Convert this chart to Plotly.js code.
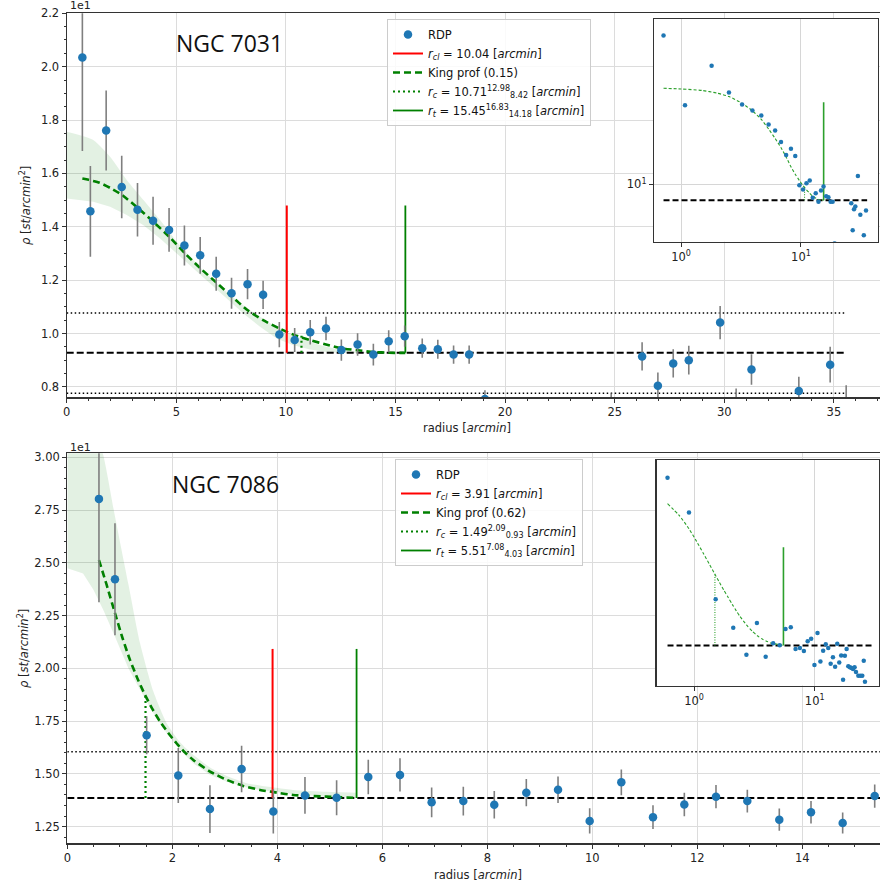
<!DOCTYPE html>
<html>
<head>
<meta charset="utf-8">
<script src="https://cdn.plot.ly/plotly-3.0.1.min.js"></script>
<style>
html,body{margin:0;padding:0;overflow:hidden;background:#fff;}
#chart{width:900px;height:891px;}
</style>
</head>
<body>
<div id="chart"></div>
<script>
// ---------------- NGC 7031 (values in st/arcmin^2; main axis shown with 1e1 offset) ----------------
const r7031   = [0.715,1.08,1.80,2.51,3.23,3.94,4.67,5.37,6.09,6.82,7.52,8.25,8.96,9.70,10.40,11.11,11.83,12.53,13.27,13.99,14.69,15.42,16.22,16.93,17.65,18.36,19.08,24.84,26.25,26.97,27.67,28.38,29.81,30.54,31.24,33.40,34.83,35.56];
const rho7031 = [20.34,14.58,17.61,15.49,14.64,14.23,13.88,13.30,12.93,12.24,11.51,11.85,11.45,9.96,9.76,10.05,10.19,9.38,9.59,9.21,9.71,9.90,9.45,9.41,9.21,9.21,7.55,7.40,9.14,8.04,8.88,9.00,10.41,7.35,8.65,7.85,8.83,7.40];
const err7031 = [3.5,1.7,1.5,1.17,1.0,0.9,0.82,0.75,0.69,0.64,0.58,0.57,0.53,0.47,0.45,0.46,0.44,0.40,0.42,0.41,0.41,0.40,0.36,0.36,0.34,0.34,0.32,0.35,0.53,0.50,0.53,0.54,0.62,0.59,0.57,0.53,0.67,0.66];
const kingR7031   = [0.715,1.0,1.5,2.0,2.51,3.23,3.95,4.67,5.40,6.09,6.84,7.52,8.21,8.96,9.70,10.40,11.11,11.83,12.6,13.27,14.0,14.7,15.45];
const kingRho7031 = [15.81,15.76,15.65,15.45,15.2,14.72,14.19,13.63,13.0,12.45,11.9,11.4,10.9,10.5,10.19,9.94,9.75,9.59,9.44,9.375,9.31,9.28,9.275];
const bandR7031  = [0,1.21,1.98,2.74,3.5,4.26,5.02,5.78,6.54,7.30,8.06,8.82,9.58,10.34,11.1,11.86,12.6,13.38,13.8];
const bandUp7031 = [17.56,17.25,16.62,15.75,15.0,14.25,13.44,12.75,12.12,11.56,11.06,10.63,10.25,9.94,9.69,9.5,9.37,9.31,9.28];
const bandLo7031 = [15.06,14.94,14.75,14.44,14.06,13.56,13.0,12.44,11.88,11.31,10.75,10.25,9.81,9.56,9.40,9.31,9.27,9.27,9.27];
const bg7031 = 9.275, bgHi7031 = 10.77, bgLo7031 = 7.76;
const bgSpan7031 = [0, 35.5], bgSpanLog7031 = [0.715, 35.6];
const rcl7031 = 10.04, rc7031 = 10.71, rcTop7031 = 9.92, rt7031 = 15.45, vTop7031 = 14.8;
const yTicks7031 = [8,10,12,14,16,18,20,22];
const yText7031  = ['0.8','1.0','1.2','1.4','1.6','1.8','2.0','2.2'];

// ---------------- NGC 7086 ----------------
const r7086   = [0.603,0.908,1.511,2.114,2.717,3.32,3.924,4.527,5.13,5.733,6.337,6.94,7.543,8.133,8.743,9.347,9.95,10.553,11.156,11.753,12.356,12.953,13.562,14.166,14.769,15.379,15.98,16.58,17.19,17.79,18.39,18.99,19.6,20.2,20.8,21.4,22.0,23.0,23.9,24.8,25.5,26.1];
const rho7086 = [28.03,24.22,16.83,14.92,13.33,15.23,13.22,13.98,13.87,14.85,14.95,13.65,13.71,13.54,14.11,14.25,12.77,14.60,12.95,13.55,13.92,13.71,12.83,13.18,12.67,13.95,12.9,13.29,12.0,13.27,13.65,12.7,12.64,12.6,12.55,12.64,12.4,12.2,12.2,12.2,13.0,11.9];
const err7086 = [4.9,2.65,0.9,1.3,1.13,1.1,1.05,0.87,0.83,0.82,0.79,0.7,0.68,0.65,0.65,0.63,0.6,0.61,0.56,0.56,0.55,0.54,0.53,0.53,0.5,0.55,0.5,0.5,0.5,0.5,0.5,0.5,0.5,0.5,0.5,0.5,0.5,0.5,0.5,0.5,0.5,0.5];
const kingR7086   = [0.603,0.75,0.909,1.05,1.194,1.34,1.48,1.62,1.766,1.92,2.08,2.24,2.40,2.72,3.04,3.35,3.67,3.99,4.30,4.94,5.51];
const kingRho7086 = [25.13,23.95,22.61,21.45,20.4,19.5,18.74,18.08,17.48,16.95,16.45,16.02,15.66,15.11,14.71,14.43,14.24,14.11,14.0,13.92,13.86];
const bandR7086  = [0,0.3,0.5,0.686,0.909,1.163,1.385,1.64,1.893,2.147,2.4,2.72,3.04,3.42,3.67,4.30,4.94,5.51];
const bandUp7086 = [36.0,33.5,31.5,30.1,27.2,24.0,21.2,18.9,17.4,16.5,15.9,15.3,14.9,14.56,14.45,14.24,14.15,14.11];
const bandLo7086 = [24.74,24.5,23.71,22.77,21.5,20.0,18.98,17.87,16.93,16.13,15.5,14.95,14.63,14.35,14.24,14.05,13.92,13.87];
const bg7086 = 13.86, bgHi7086 = 16.05, bgLo7086 = 11.67;
const bgSpan7086 = [0, 29.7], bgSpanLog7086 = [0.603, 29.7];
const rcl7086 = 3.91, rc7086 = 1.49, rcTop7086 = 18.74, rt7086 = 5.51, vTop7086 = 20.92;
const yTicks7086 = [12.5,15,17.5,20,22.5,25,27.5,30];
const yText7086  = ['1.25','1.50','1.75','2.00','2.25','2.50','2.75','3.00'];

// ---------------- helpers (styling only) ----------------
const W = 900, H = 891;
const PX = p => p / W, PY = p => 1 - p / H;
const FONT = 'DejaVu Sans, sans-serif';
const BLUE = '#1f77b4', GREEN = '#008000', LGREEN = '#2ca02c';
const ERRC = '#7f7f7f';

function hline(xs, y, dash, width, xa, ya) {
  return {x: xs, y: [y, y], xaxis: xa, yaxis: ya, mode: 'lines', showlegend: false, hoverinfo: 'skip',
          line: {color: 'black', dash: dash, width: width}};
}
function vline(x, y0, y1, color, dash, width, xa, ya, name, legend, rank) {
  return {x: [x, x], y: [y0, y1], xaxis: xa, yaxis: ya, mode: 'lines', name: name || '',
          showlegend: !!name, legend: legend, legendrank: rank,
          line: {color: color, dash: dash, width: width}, hoverinfo: 'skip'};
}

function panelTraces(d) {
  const t = [];
  const xa = d.xa, ya = d.ya, xi = d.xi, yi = d.yi, lg = d.legend;
  // band
  t.push({x: d.bandR, y: d.bandLo, xaxis: xa, yaxis: ya, mode: 'lines', line: {width: 0, color: 'rgba(0,0,0,0)'}, showlegend: false, legend: lg, hoverinfo: 'skip'});
  t.push({x: d.bandR, y: d.bandUp, xaxis: xa, yaxis: ya, mode: 'lines', fill: 'tonexty', fillcolor: 'rgba(0,128,0,0.11)', line: {width: 0, color: 'rgba(0,0,0,0)', shape: 'spline', smoothing: 0.6}, showlegend: false, legend: lg, hoverinfo: 'skip'});
  // horizontal background lines
  t.push(hline(d.bgSpan, d.bgHi, '1.5px,2.5px', 1.6, xa, ya));
  t.push(hline(d.bgSpan, d.bgLo, '1.5px,2.5px', 1.6, xa, ya));
  t.push(hline(d.bgSpan, d.bg, '7px,3px', 2, xa, ya));
  // King profile
  t.push({x: d.kingR, y: d.kingRho, xaxis: xa, yaxis: ya, mode: 'lines', name: d.kingName, legend: lg, legendrank: 3,
          line: {color: GREEN, dash: '7px,4px', width: 2.6, shape: 'spline', smoothing: 0.6}, hoverinfo: 'skip'});
  // vertical markers
  t.push(vline(d.rcl, d.bg, d.vTop, 'red', 'solid', 2, xa, ya, d.rclName, lg, 2));
  t.push(vline(d.rc, d.bg, d.rcTop, GREEN, '2px,3px', 2.2, xa, ya, d.rcName, lg, 4));
  t.push(vline(d.rt, d.bg, d.vTop, GREEN, 'solid', 1.8, xa, ya, d.rtName, lg, 5));
  // data
  t.push({x: d.r, y: d.rho, xaxis: xa, yaxis: ya, mode: 'markers', name: 'RDP', legend: lg, legendrank: 1,
          marker: {color: BLUE, size: 8.5},
          error_y: {type: 'data', array: d.err, visible: true, color: ERRC, thickness: 1.6, width: 0}});
  // inset
  t.push(hline(d.bgSpanLog, d.bg, '6px,3px', 2, xi, yi));
  t.push({x: d.kingR, y: d.kingRho, xaxis: xi, yaxis: yi, mode: 'lines', showlegend: false, hoverinfo: 'skip',
          line: {color: LGREEN, dash: '3px,2px', width: 1.1, shape: 'spline', smoothing: 0.6}});
  t.push(vline(d.rc, d.bg, d.rcTop, LGREEN, '1px,1.5px', 1.1, xi, yi));
  t.push(vline(d.rt, d.bg, d.vTop, LGREEN, 'solid', 1.6, xi, yi));
  t.push({x: d.r, y: d.rho, xaxis: xi, yaxis: yi, mode: 'markers', showlegend: false, hoverinfo: 'skip',
          marker: {color: BLUE, size: 4.5}});
  return t;
}

const data = [].concat(
  panelTraces({xa: 'x', ya: 'y', xi: 'x2', yi: 'y2', legend: 'legend',
    r: r7031, rho: rho7031, err: err7031, kingR: kingR7031, kingRho: kingRho7031,
    bandR: bandR7031, bandUp: bandUp7031, bandLo: bandLo7031,
    bg: bg7031, bgHi: bgHi7031, bgLo: bgLo7031, bgSpan: bgSpan7031, bgSpanLog: bgSpanLog7031,
    rcl: rcl7031, rc: rc7031, rcTop: rcTop7031, rt: rt7031, vTop: vTop7031,
    kingName: 'King prof (0.15)',
    rclName: '<i>r<sub>cl</sub></i> = 10.04 [<i>arcmin</i>]',
    rcName: '<i>r<sub>c</sub></i> = 10.71<sup>12.98</sup><sub>8.42</sub> [<i>arcmin</i>]',
    rtName: '<i>r<sub>t</sub></i> = 15.45<sup>16.83</sup><sub>14.18</sub> [<i>arcmin</i>]'}),
  panelTraces({xa: 'x3', ya: 'y3', xi: 'x4', yi: 'y4', legend: 'legend2',
    r: r7086, rho: rho7086, err: err7086, kingR: kingR7086, kingRho: kingRho7086,
    bandR: bandR7086, bandUp: bandUp7086, bandLo: bandLo7086,
    bg: bg7086, bgHi: bgHi7086, bgLo: bgLo7086, bgSpan: bgSpan7086, bgSpanLog: bgSpanLog7086,
    rcl: rcl7086, rc: rc7086, rcTop: rcTop7086, rt: rt7086, vTop: vTop7086,
    kingName: 'King prof (0.62)',
    rclName: '<i>r<sub>cl</sub></i> = 3.91 [<i>arcmin</i>]',
    rcName: '<i>r<sub>c</sub></i> = 1.49<sup>2.09</sup><sub>0.93</sub> [<i>arcmin</i>]',
    rtName: '<i>r<sub>t</sub></i> = 5.51<sup>7.08</sup><sub>4.03</sub> [<i>arcmin</i>]'})
);

const AX = {
  showline: true, linecolor: '#333', linewidth: 1.2, mirror: true,
  ticks: 'outside', ticklen: 4, tickwidth: 1, tickcolor: '#333',
  showgrid: true, gridcolor: '#dcdcdc', gridwidth: 1, zeroline: false,
  tickfont: {family: FONT, size: 11.5, color: '#222'}
};
const MINOR = d => ({dtick: d, tick0: 0, ticks: 'outside', ticklen: 2, tickcolor: '#333', showgrid: false});
const INSET = {
  type: 'log', showline: true, linecolor: '#333', linewidth: 1.2, mirror: true,
  ticks: 'outside', ticklen: 4, tickcolor: '#333', showgrid: true, gridcolor: '#d6d6d6',
  zeroline: false, tickmode: 'array', tickfont: {family: FONT, size: 11.5, color: '#222'}
};
const LEG = {
  xanchor: 'left', yanchor: 'top', bgcolor: 'rgba(255,255,255,0.85)', traceorder: 'normal',
  bordercolor: '#cccccc', borderwidth: 1, font: {family: FONT, size: 11.5, color: '#111'},
  tracegroupgap: 0, itemwidth: 30
};

const layout = {
  width: W, height: H, margin: {l: 0, r: 0, t: 0, b: 0},
  paper_bgcolor: 'white', plot_bgcolor: 'white', showlegend: true,
  xaxis:  Object.assign({}, AX, {domain: [PX(66.7), PX(888.7)], range: [0, 37.5], anchor: 'y', tick0: 0, dtick: 5, minor: MINOR(1)}),
  yaxis:  Object.assign({}, AX, {domain: [PY(397.3), PY(13.3)], range: [7.61, 22.0], anchor: 'x', tickmode: 'array', tickvals: yTicks7031, ticktext: yText7031, minor: MINOR(0.5)}),
  xaxis2: Object.assign({}, INSET, {domain: [PX(654), PX(878)], range: [-0.225, 1.642], anchor: 'y2', tickvals: [1, 10], ticktext: ['10<sup>0</sup>', '10<sup>1</sup>']}),
  yaxis2: Object.assign({}, INSET, {domain: [PY(241.7), PY(19)], range: [0.8814, 1.3424], anchor: 'x2', tickvals: [10], ticktext: ['10<sup>1</sup>']}),
  xaxis3: Object.assign({}, AX, {domain: [PX(67.3), PX(886.3)], range: [0, 15.6], anchor: 'y3', tick0: 0, dtick: 2, minor: MINOR(0.5)}),
  yaxis3: Object.assign({}, AX, {domain: [PY(843.3), PY(453.3)], range: [11.71, 30.19], anchor: 'x3', tickmode: 'array', tickvals: yTicks7086, ticktext: yText7086, minor: MINOR(0.5)}),
  xaxis4: Object.assign({}, INSET, {domain: [PX(656.5), PX(879)], range: [-0.311, 1.533], anchor: 'y4', tickvals: [1, 10], ticktext: ['10<sup>0</sup>', '10<sup>1</sup>']}),
  yaxis4: Object.assign({}, INSET, {domain: [PY(685.5), PY(460)], range: [1.0686, 1.4799], anchor: 'x4', tickmode: 'auto', showticklabels: false, ticks: '', showgrid: false}),
  legend:  Object.assign({}, LEG, {x: PX(387), y: PY(19)}),
  legend2: Object.assign({}, LEG, {x: PX(395), y: PY(459)}),
  annotations: [
    {text: 'NGC 7031', xref: 'paper', yref: 'paper', x: PX(230), y: PY(43), showarrow: false, xanchor: 'center', yanchor: 'middle', font: {family: 'Open Sans, sans-serif', size: 23, color: '#111'}},
    {text: 'NGC 7086', xref: 'paper', yref: 'paper', x: PX(225), y: PY(484), showarrow: false, xanchor: 'center', yanchor: 'middle', font: {family: 'Open Sans, sans-serif', size: 23, color: '#111'}},
    {text: '1e1', xref: 'paper', yref: 'paper', x: PX(68), y: PY(6), showarrow: false, xanchor: 'left', yanchor: 'middle', font: {family: FONT, size: 11, color: '#222'}},
    {text: '1e1', xref: 'paper', yref: 'paper', x: PX(68), y: PY(447), showarrow: false, xanchor: 'left', yanchor: 'middle', font: {family: FONT, size: 11, color: '#222'}},
    {text: '<i>ρ</i> [<i>st</i>/<i>arcmin</i><sup>2</sup>]', xref: 'paper', yref: 'paper', x: PX(25), y: PY(206), textangle: -90, showarrow: false, xanchor: 'center', yanchor: 'middle', font: {family: FONT, size: 11.5, color: '#222'}},
    {text: '<i>ρ</i> [<i>st</i>/<i>arcmin</i><sup>2</sup>]', xref: 'paper', yref: 'paper', x: PX(23), y: PY(649), textangle: -90, showarrow: false, xanchor: 'center', yanchor: 'middle', font: {family: FONT, size: 11.5, color: '#222'}},
    {text: 'radius [<i>arcmin</i>]', xref: 'paper', yref: 'paper', x: PX(467), y: PY(428), showarrow: false, xanchor: 'center', yanchor: 'middle', font: {family: FONT, size: 11.5, color: '#222'}},
    {text: 'radius [<i>arcmin</i>]', xref: 'paper', yref: 'paper', x: PX(478), y: PY(875), showarrow: false, xanchor: 'center', yanchor: 'middle', font: {family: FONT, size: 11.5, color: '#222'}}
  ]
};

Plotly.newPlot('chart', data, layout, {staticPlot: true, displayModeBar: false});
</script>
</body>
</html>
